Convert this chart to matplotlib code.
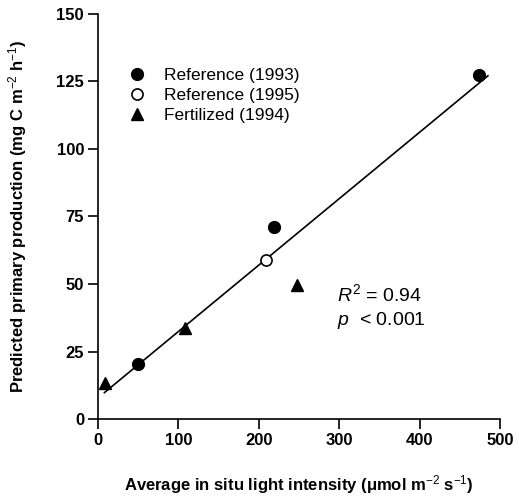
import matplotlib
matplotlib.use("Agg")
import matplotlib.pyplot as plt
import numpy as np

plt.rcParams['font.family'] = ['Liberation Sans', 'DejaVu Sans']
plt.rcParams['mathtext.fontset'] = 'custom'
plt.rcParams['mathtext.rm'] = 'Liberation Sans'
plt.rcParams['mathtext.it'] = 'Liberation Sans:italic'
plt.rcParams['mathtext.bf'] = 'Liberation Sans:bold'

ref93_x = [50, 219, 474]
ref93_y = [20.4, 71, 127.5]
ref95_x = [209]
ref95_y = [59]
fert_x = [9, 108, 248]
fert_y = [13.3, 33.7, 49.6]

fit_slope = 0.246
fit_intercept = 7.8
fit_range = [8, 485]

fig = plt.figure(figsize=(5.19, 5.0), dpi=100)
ax = fig.add_axes([98/519, 1-419/500, 402/519, 405/500])

fx = np.array(fit_range)
ax.plot(fx, fit_slope*fx + fit_intercept, color='black', lw=1.2, zorder=1)
ax.plot(ref93_x, ref93_y, 'o', color='black', ms=8.5, label='Reference (1993)', zorder=3)
ax.plot(ref95_x, ref95_y, 'o', mfc='white', mec='black', mew=1.2, ms=8, label='Reference (1995)', zorder=3)
ax.plot(fert_x, fert_y, '^', color='black', ms=8, label='Fertilized (1994)', zorder=3)

ax.set_xlim(0, 500)
ax.set_ylim(0, 150)
ax.set_xticks([0, 100, 200, 300, 400, 500])
ax.set_yticks([0, 25, 50, 75, 100, 125, 150])
for s in ['top', 'right']:
    ax.spines[s].set_visible(False)
for s in ['left', 'bottom']:
    ax.spines[s].set_linewidth(1.2)
ax.tick_params(direction='out', length=7, width=1.2, labelsize=12, pad=3)
for lab in ax.get_xticklabels() + ax.get_yticklabels():
    lab.set_fontweight('bold')

ax.set_xlabel('Average in situ light intensity (μmol m$^{-2}$ s$^{-1}$)', fontsize=12, fontweight='bold', labelpad=18)
ax.set_ylabel('Predicted primary production (mg C m$^{-2}$ h$^{-1}$)', fontsize=12, fontweight='bold', labelpad=20)

leg = ax.legend(loc='upper left', bbox_to_anchor=(0.055, 0.885), frameon=False, fontsize=12.5,
                handletextpad=0.95, labelspacing=0.3, handlelength=1.2, borderaxespad=0)

ax.text(0.595, 0.29, '$R^2$ = 0.94', transform=ax.transAxes, fontsize=14)
ax.text(0.595, 0.233, '$p$  < 0.001', transform=ax.transAxes, fontsize=14)

fig.savefig('out.png', dpi=100)
